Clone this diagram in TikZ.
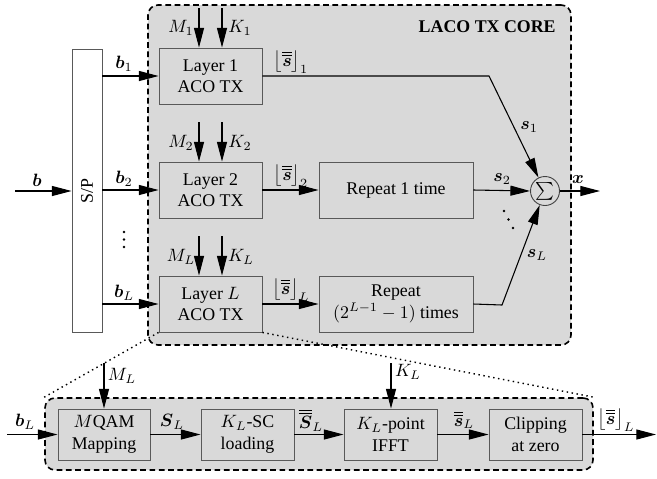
\documentclass[tikz,border=0pt]{standalone}
\usepackage{amsmath}
\usepackage{fontspec}
\setmainfont{Liberation Serif}
\usetikzlibrary{arrows.meta}
\def\PX{0.56pt}
\tikzset{
  blk/.style={draw=black!65, fill=gray!30, line width=0.5pt, align=center, inner sep=0pt},
  wblk/.style={draw=black!65, fill=white, line width=0.5pt, inner sep=0pt},
  arr/.style={line width=0.6pt, -{Triangle[length=11pt,width=5.6pt]}},
  ln/.style={line width=0.6pt},
  corebox/.style={draw, fill=gray!30, line width=0.9pt, rounded corners=5.6pt, dash pattern=on 3.2pt off 2pt, inner sep=0pt},
  lab/.style={inner sep=0pt},
  dotl/.style={line width=0.8pt, dotted},
  dotc/.style={fill=black},
}
\begin{document}
\begin{tikzpicture}[x=0.56pt,y=-0.56pt]
\useasboundingbox (0,0) rectangle (657,478);
% containers
\node[corebox, minimum width=423*\PX, minimum height=340*\PX] (core) at (359.5,175) {};
\node[corebox, minimum width=548*\PX, minimum height=72*\PX] (bot) at (319,434) {};
\node[lab, anchor=east] (title) at (556,27) {\textbf{LACO TX CORE}};
% S/P
\node[wblk, minimum width=30*\PX, minimum height=283*\PX] (sp) at (87,190.5) {};
\node[lab, rotate=90] (splab) at (87,191) {S/P};
% layers
\node[blk, minimum width=103*\PX, minimum height=56*\PX] (l1) at (210.5,76) {Layer 1\\ACO TX};
\node[blk, minimum width=103*\PX, minimum height=56*\PX] (l2) at (210.5,190) {Layer 2\\ACO TX};
\node[blk, minimum width=103*\PX, minimum height=56*\PX] (lL) at (210.5,304) {Layer $L$\\ACO TX};
\node[blk, minimum width=154*\PX, minimum height=56*\PX] (r2) at (396,190) {Repeat 1 time};
\node[blk, minimum width=154*\PX, minimum height=56*\PX] (rL) at (396,304) {Repeat\\$(2^{L-1}-1)$ times};
\node[draw=black!75, fill=gray!30, line width=0.5pt, circle, minimum size=29*\PX, inner sep=0pt] (sum) at (545,191) {$\sum$};
% input
\coordinate (bin) at (15,191);
\draw[arr] (bin) -- (sp.west |- bin);
\node[lab] (blab) at (37,180) {$\boldsymbol{b}$};
\draw[arr] (sp.east |- l1) -- (l1.west);
\draw[arr] (sp.east |- l2) -- (l2.west);
\draw[arr] (sp.east |- lL) -- (lL.west);
\node[lab] (b1lab) at (124,64) {$\boldsymbol{b}_1$};
\node[lab] (b2lab) at (124,179) {$\boldsymbol{b}_2$};
\node[lab] (bLlab) at (124,293) {$\boldsymbol{b}_L$};
\fill[dotc] (124,232) circle (1.4);
\fill[dotc] (124,239.5) circle (1.4);
\fill[dotc] (124,247) circle (1.4);
% M, K inputs
\coordinate (m1in) at (199,8);   \coordinate (k1in) at (222,8);
\coordinate (m2in) at (199,122); \coordinate (k2in) at (222,122);
\coordinate (mLin) at (199,236); \coordinate (kLin) at (222,236);
\draw[arr] (m1in) -- (m1in |- l1.north);
\draw[arr] (k1in) -- (k1in |- l1.north);
\draw[arr] (m2in) -- (m2in |- l2.north);
\draw[arr] (k2in) -- (k2in |- l2.north);
\draw[arr] (mLin) -- (mLin |- lL.north);
\draw[arr] (kLin) -- (kLin |- lL.north);
\node[lab] (m1lab) at (181,28) {$M_1$};
\node[lab] (k1lab) at (240,28) {$K_1$};
\node[lab] (m2lab) at (181,143) {$M_2$};
\node[lab] (k2lab) at (240,143) {$K_2$};
\node[lab] (mLlab) at (181,257) {$M_L$};
\node[lab] (kLlab) at (241,257) {$K_L$};
% outputs of layers
\node[lab] (s1b) at (291,62) {$\left\lfloor\overline{\overline{\boldsymbol{s}}}\right\rfloor_1$};
\node[lab] (s2b) at (291,176) {$\left\lfloor\overline{\overline{\boldsymbol{s}}}\right\rfloor_2$};
\node[lab] (sLb) at (291,290) {$\left\lfloor\overline{\overline{\boldsymbol{s}}}\right\rfloor_L$};
\coordinate (k1) at (489,76);
\coordinate (kL) at (502,305);
\draw[arr] (l1.east) -- (k1) -- (sum);
\draw[arr] (l2.east) -- (r2.west);
\draw[arr] (r2.east) -- (sum.west);
\draw[arr] (lL.east) -- (rL.west);
\draw[arr] (rL.east) -- (kL) -- (sum);
\node[lab] (s1lab) at (529,127) {$\boldsymbol{s}_1$};
\node[lab] (s2lab) at (502,179) {$\boldsymbol{s}_2$};
\node[lab] (sLlab) at (537,255) {$\boldsymbol{s}_L$};
\fill[dotc] (504,211) circle (1.4);
\fill[dotc] (508.5,219.5) circle (1.4);
\fill[dotc] (513,228) circle (1.4);
\coordinate (xout) at (600,191);
\draw[arr] (sum.east) -- (xout);
\node[lab] (xlab) at (578,180) {$\boldsymbol{x}$};
% bottom chain
\node[blk, minimum width=92*\PX, minimum height=51*\PX] (q1) at (104,434.5) {$M$QAM\\Mapping};
\node[blk, minimum width=93*\PX, minimum height=51*\PX] (q2) at (247.5,434.5) {$K_L$-SC\\loading};
\node[blk, minimum width=93*\PX, minimum height=51*\PX] (q3) at (390.5,434.5) {$K_L$-point\\IFFT};
\node[blk, minimum width=93*\PX, minimum height=51*\PX] (q4) at (535.5,434.5) {Clipping\\at zero};
\coordinate (bLin) at (7,434.5);
\draw[arr] (bLin) -- (q1.west);
\node[lab] (bLlab2) at (25,422) {$\boldsymbol{b}_L$};
\coordinate (MLin) at (104,363);
\coordinate (KLin) at (391,363);
\draw[arr] (MLin) -- (q1.north);
\draw[arr] (KLin) -- (KLin |- q3.north);
\node[lab] (MLlab) at (122,376) {$M_L$};
\node[lab] (KLlab) at (408,372) {$K_L$};
\draw[arr] (q1.east) -- (q2.west);
\draw[arr] (q2.east) -- (q3.west);
\draw[arr] (q3.east) -- (q4.west);
\coordinate (outL) at (656,434.5);
\draw[arr] (q4.east) -- (outL);
\node[lab] (SLlab) at (172,422) {$\boldsymbol{S}_L$};
\node[lab] (SSLlab) at (311,420) {$\overline{\overline{\boldsymbol{S}}}_L$};
\node[lab] (ssLlab) at (464,420) {$\overline{\overline{\boldsymbol{s}}}_L$};
\node[lab] (outlab) at (616,420) {$\left\lfloor\overline{\overline{\boldsymbol{s}}}\right\rfloor_L$};
% zoom lines
\draw[dotl] (lL.south west) -- (bot.north west);
\draw[dotl] (lL.south east) -- (bot.north east);
\end{tikzpicture}
\end{document}
